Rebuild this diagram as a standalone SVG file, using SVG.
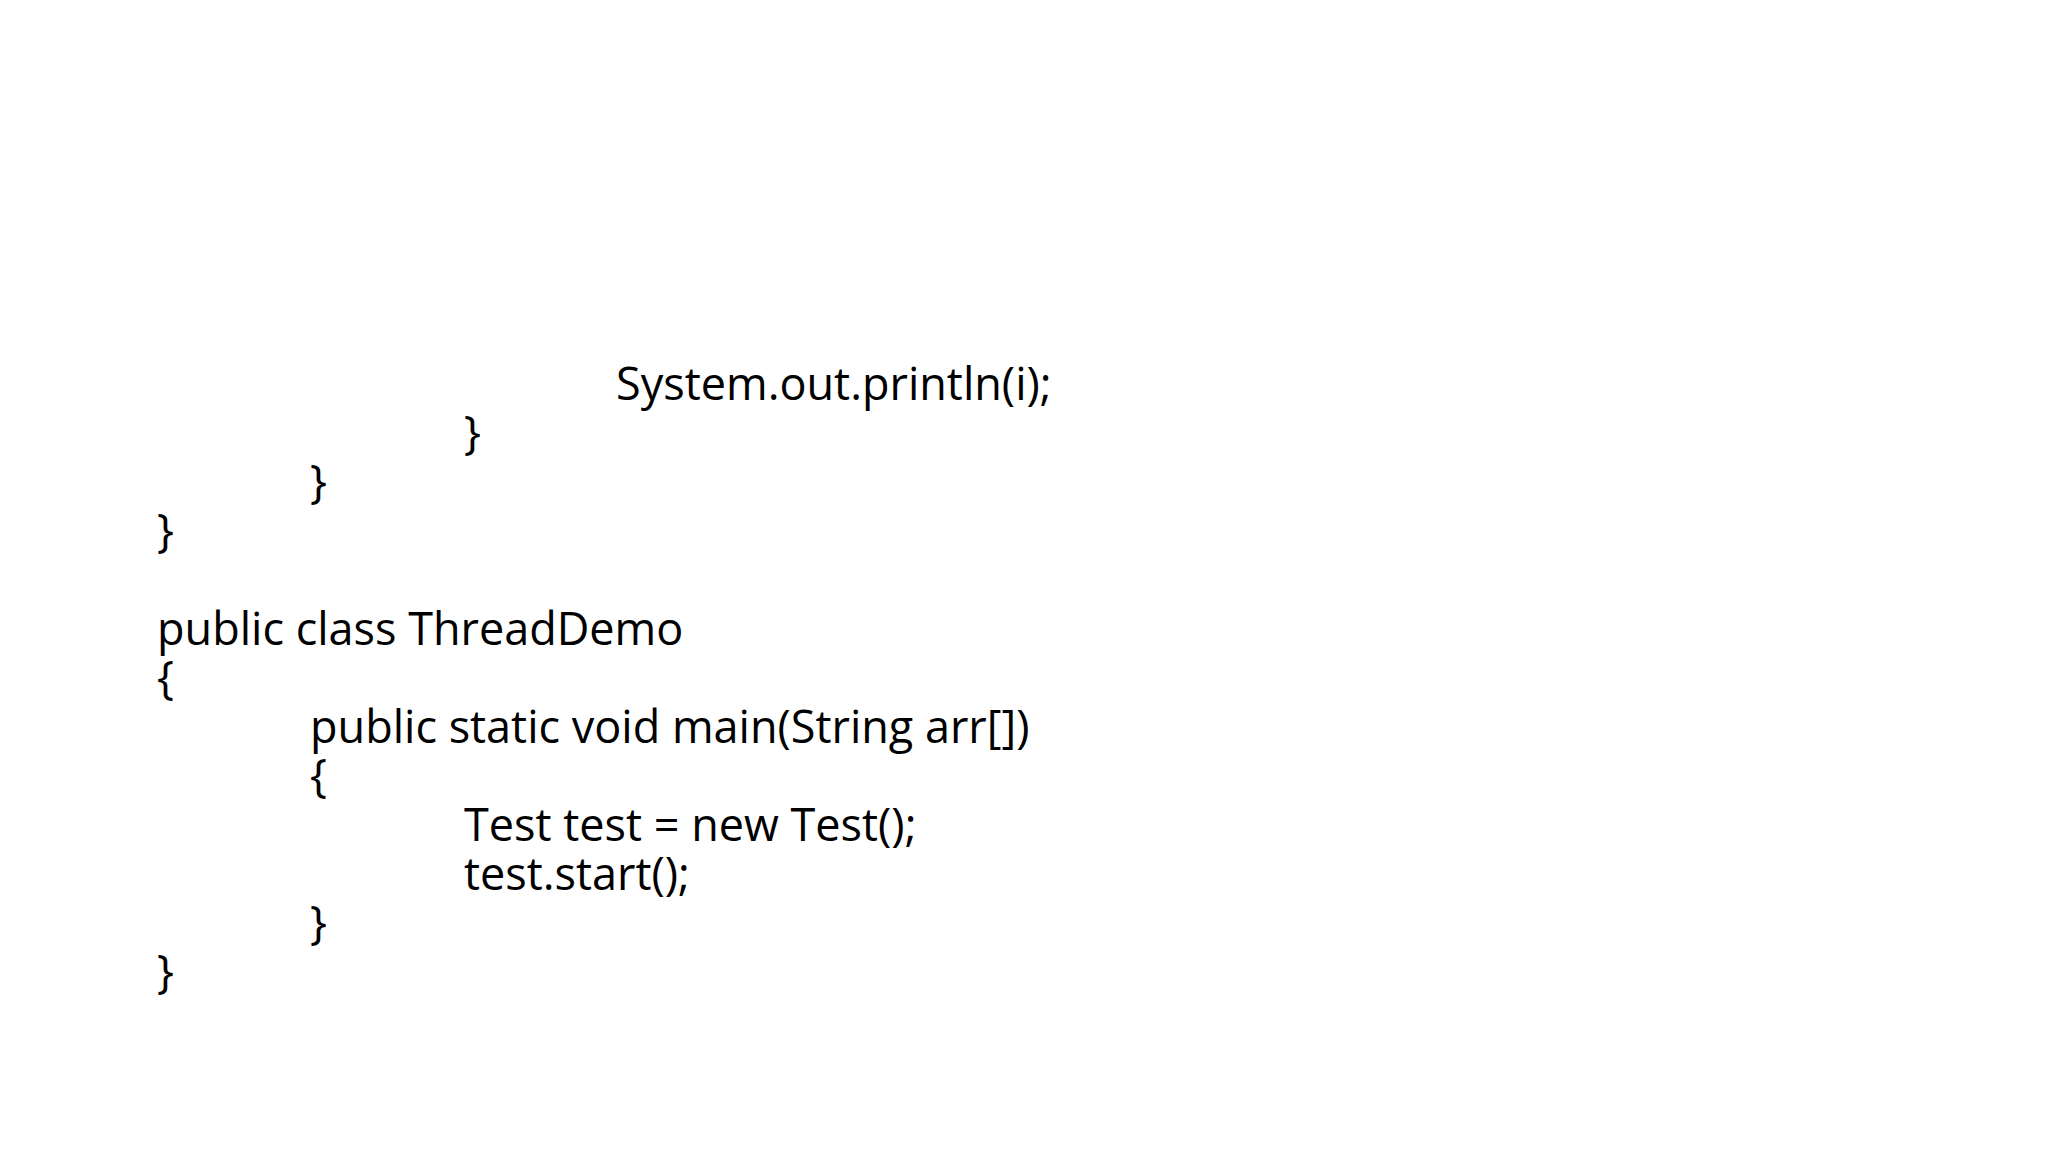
<svg xmlns="http://www.w3.org/2000/svg" width="2048" height="1152" viewBox="0 0 2048 1152">
<style>text{font-family:"Open Sans","Liberation Sans",sans-serif;font-size:45px;fill:#000}</style>
<rect width="2048" height="1152" fill="#fff"/>
<g id="code">
<text x="616" y="400">System.out.println(i);</text>
<text x="464" y="449">}</text>
<text x="310" y="498">}</text>
<text x="157" y="547">}</text>
<text x="157" y="645">public class ThreadDemo</text>
<text x="157" y="694">{</text>
<text x="310" y="743">public static void main(String arr[])</text>
<text x="310" y="792">{</text>
<text x="464" y="841">Test test = new Test();</text>
<text x="464" y="890">test.start();</text>
<text x="310" y="939">}</text>
<text x="157" y="988">}</text>
</g>
</svg>
